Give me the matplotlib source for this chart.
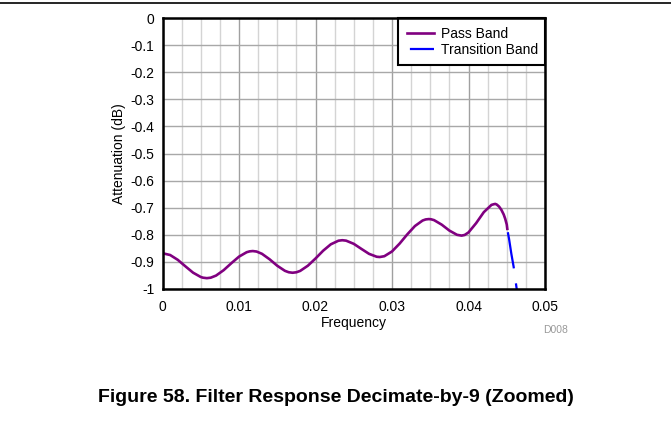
import matplotlib
matplotlib.use("Agg")
import matplotlib.pyplot as plt
from matplotlib.lines import Line2D
from matplotlib.patches import Rectangle
from matplotlib.ticker import MultipleLocator

plt.rcParams['font.family'] = ['Liberation Sans', 'DejaVu Sans']

# Pass band (frequency, attenuation dB)
pass_freq = [0.000, 0.001, 0.002, 0.003, 0.004, 0.005, 0.0053, 0.0058, 0.0063,
             0.007, 0.008, 0.009, 0.010, 0.011, 0.0114, 0.0118, 0.0123,
             0.013, 0.014, 0.015, 0.016, 0.0165, 0.017, 0.0175,
             0.018, 0.019, 0.020, 0.021, 0.022, 0.023, 0.0235,
             0.024, 0.025, 0.026, 0.027, 0.028, 0.0284,
             0.029, 0.030, 0.031, 0.032, 0.033, 0.034, 0.0344, 0.0348, 0.0351,
             0.0355, 0.0365, 0.0375, 0.0385, 0.0391, 0.0395,
             0.040, 0.041, 0.042, 0.043, 0.0433, 0.0435, 0.0437,
             0.0440, 0.0443, 0.0446, 0.0448, 0.0450, 0.04507]
pass_db = [-0.868, -0.8746, -0.8925, -0.9165, -0.9398, -0.9557, -0.9583, -0.960, -0.9583,
           -0.9505, -0.9304, -0.9048, -0.8806, -0.8643, -0.8611, -0.860, -0.8618,
           -0.8701, -0.8904, -0.9142, -0.9329, -0.9382, -0.940, -0.9383,
           -0.9332, -0.9141, -0.8875, -0.8587, -0.8351, -0.8218, -0.820,
           -0.8216, -0.8333, -0.8520, -0.8703, -0.8810, -0.882,
           -0.8790, -0.8615, -0.8323, -0.7983, -0.7676, -0.7473, -0.7433, -0.742, -0.7427,
           -0.7459, -0.7626, -0.7844, -0.8001, -0.803, -0.8006,
           -0.7913, -0.7569, -0.7165, -0.6897, -0.6872, -0.686, -0.6885,
           -0.696, -0.708, -0.725, -0.741, -0.762, -0.778]

# Transition band
trans_freq = [0.04507, 0.0453, 0.0456, 0.0459, 0.0461, 0.0463, 0.0465]
trans_db = [-0.780, -0.815, -0.870, -0.918, -0.958, -1.000, -1.050]

x_ticks = [0, 0.01, 0.02, 0.03, 0.04, 0.05]
x_labels = ["0", "0.01", "0.02", "0.03", "0.04", "0.05"]
y_ticks = [0, -0.1, -0.2, -0.3, -0.4, -0.5, -0.6, -0.7, -0.8, -0.9, -1]
y_labels = ["0", "-0.1", "-0.2", "-0.3", "-0.4", "-0.5", "-0.6", "-0.7", "-0.8", "-0.9", "-1"]

fig = plt.figure(figsize=(6.71, 4.26), dpi=100)
ax = fig.add_axes([162.5 / 671, 1 - 289 / 426, (545 - 162.5) / 671, (289 - 18) / 426])

ax.plot(pass_freq, pass_db, color='#800080', lw=1.9, label='Pass Band', zorder=3,
        solid_joinstyle='round')
ax.plot(trans_freq, trans_db, color='#0000FF', lw=1.6, label='Transition Band',
        linestyle=(22, (16.5, 6.8)), zorder=3)

ax.set_xlim(0, 0.05)
ax.set_ylim(-1, 0)
ax.set_xticks(x_ticks)
ax.set_xticklabels(x_labels)
ax.set_yticks(y_ticks)
ax.set_yticklabels(y_labels)
ax.xaxis.set_minor_locator(MultipleLocator(0.0025))

ax.grid(which='major', axis='x', color='#a0a0a0', lw=1.0)
ax.grid(which='minor', axis='x', color='#d4d4d4', lw=1.0)
ax.grid(which='major', axis='y', color='#a8a8a8', lw=1.0)
ax.set_axisbelow(True)
ax.tick_params(which='both', length=0)
ax.tick_params(axis='x', pad=8, labelsize=10)
ax.tick_params(axis='y', pad=6, labelsize=10)

for s in ax.spines.values():
    s.set_linewidth(1.8)
    s.set_color('black')
    s.set_zorder(6)

ax.set_xlabel('Frequency', fontsize=10, labelpad=1)
ax.set_ylabel('Attenuation (dB)', fontsize=10, labelpad=3)

# legend box
ax.add_patch(Rectangle((0.6157, 0.8266), 0.3843, 0.1734, transform=ax.transAxes,
                       facecolor='white', edgecolor='black', lw=1.5, zorder=4,
                       clip_on=False))
leg = ax.legend(loc='upper left', bbox_to_anchor=(0.6384, 0.9668), fontsize=10,
                frameon=False, borderaxespad=0, borderpad=0,
                handlelength=2.0, labelspacing=0.15, handletextpad=0.5)
leg.set_zorder(5)

fig.text(568 / 671, 1 - 330 / 426, 'D008', fontsize=7.5, color='#999999',
         ha='right', va='center')
fig.text(336 / 671, 1 - 397 / 426, 'Figure 58. Filter Response Decimate-by-9 (Zoomed)',
         fontsize=14, fontweight='bold', ha='center', va='center')
fig.add_artist(Line2D([0, 1], [1 - 3 / 426, 1 - 3 / 426], color='black', lw=1.2,
                      transform=fig.transFigure))

fig.savefig('out.png', dpi=100)
